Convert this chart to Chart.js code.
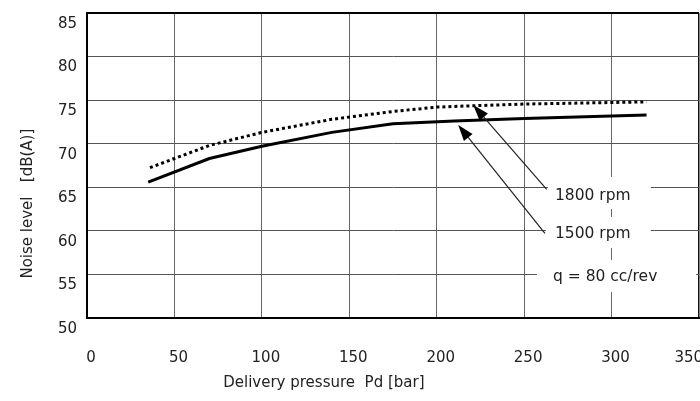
<!DOCTYPE html>
<html><head><meta charset="utf-8">
<script src="https://cdn.jsdelivr.net/npm/chart.js@4"></script>
<style>html,body{margin:0;padding:0;background:#fff;overflow:hidden}#wrap{position:relative;width:700px;height:401px}</style>
</head><body><div id="wrap"><canvas id="c" width="700" height="401"></canvas></div>
<script>
// ---- data ----
const pressure1500 = [35, 70, 100, 140, 175, 210, 250, 320];
const noise1500    = [65.6, 68.3, 69.7, 71.3, 72.3, 72.6, 72.9, 73.3];
const pressure1800 = [36, 70, 100, 140, 175, 200, 220, 250, 320];
const noise1800    = [67.25, 69.8, 71.3, 72.8, 73.7, 74.2, 74.35, 74.55, 74.8];
const seriesNames  = ['1500 rpm', '1800 rpm'];
const xTickLabels  = ['0', '50', '100', '150', '200', '250', '300', '350'];
const yTickLabels  = ['50', '55', '60', '65', '70', '75', '80', '85'];
const xTitle = 'Delivery pressure  Pd [bar]';
const yTitle = 'Noise level   [dB(A)]';
const noteText = 'q = 80 cc/rev';

// annotation layout in data units
const notes = {
  boxes:  [[263.6, 322.5, 66.18, 62.51], [262.5, 322.5, 61.59, 58.03], [257.3, 348.3, 56.66, 52.98]],
  labels: [[seriesNames[1], 267.6, 64.0], [seriesNames[0], 267.6, 59.64], [noteText, 266.5, 54.74]],
  arrows: [[262.9, 64.77, 220.9, 74.44], [261.9, 59.72, 212.3, 72.15]]
};

const toXY = (xs, ys) => xs.map((x, i) => ({x: x, y: ys[i]}));

const FONT = 'DejaVu Sans';
Chart.defaults.font.family = FONT;
Chart.defaults.font.size = 15;
Chart.defaults.color = '#222';

const notesPlugin = {
  id: 'notes',
  beforeDatasetsDraw(chart) {
    const {ctx, scales: {x, y}} = chart;
    ctx.save();
    ctx.fillStyle = '#fff';
    notes.boxes.forEach(b => {
      const x0 = x.getPixelForValue(b[0]), x1 = x.getPixelForValue(b[1]);
      const y0 = y.getPixelForValue(b[2]), y1 = y.getPixelForValue(b[3]);
      ctx.fillRect(x0, y0, x1 - x0, y1 - y0);
    });
    ctx.restore();
  },
  afterDatasetsDraw(chart) {
    const {ctx, scales: {x, y}} = chart;
    ctx.save();
    ctx.font = '15.5px "' + FONT + '"';
    ctx.fillStyle = '#222';
    ctx.textBaseline = 'middle';
    ctx.textAlign = 'left';
    notes.labels.forEach(l => ctx.fillText(l[0], x.getPixelForValue(l[1]), y.getPixelForValue(l[2])));
    notes.arrows.forEach(a => {
      const tx = x.getPixelForValue(a[0]), ty = y.getPixelForValue(a[1]);
      const hx = x.getPixelForValue(a[2]), hy = y.getPixelForValue(a[3]);
      const ang = Math.atan2(hy - ty, hx - tx);
      const L = 16, W = 5.5;
      const bx = hx - L * Math.cos(ang), by = hy - L * Math.sin(ang);
      ctx.strokeStyle = '#222';
      ctx.lineWidth = 1.2;
      ctx.beginPath(); ctx.moveTo(tx, ty); ctx.lineTo(bx, by); ctx.stroke();
      ctx.fillStyle = '#000';
      ctx.beginPath();
      ctx.moveTo(hx, hy);
      ctx.lineTo(bx + W * Math.sin(ang), by - W * Math.cos(ang));
      ctx.lineTo(bx - W * Math.sin(ang), by + W * Math.cos(ang));
      ctx.closePath(); ctx.fill();
    });
    ctx.restore();
  }
};

new Chart(document.getElementById('c'), {
  type: 'scatter',
  data: {
    datasets: [
      {label: seriesNames[0], data: toXY(pressure1500, noise1500), showLine: true, borderColor: '#000',
       borderWidth: 3, pointRadius: 0, tension: 0, fill: false},
      {label: seriesNames[1], data: toXY(pressure1800, noise1800), showLine: true, borderColor: '#000',
       borderWidth: 3, borderDash: [3, 3], pointRadius: 0, tension: 0, fill: false}
    ]
  },
  options: {
    responsive: false,
    animation: false,
    layout: {padding: {top: 13, right: 1, bottom: 4, left: 0}},
    plugins: {legend: {display: false}, tooltip: {enabled: false}},
    scales: {
      x: {
        type: 'linear', min: 0, max: 350,
        ticks: {stepSize: 50, padding: 31, labelOffset: 4, maxRotation: 0,
                callback: (v, i, arr) => xTickLabels[i] + (i === arr.length - 1 ? '\u00a0'.repeat(6) : '')},
        grid: {drawTicks: false,
               color: c => (c.tick && c.tick.value === 350) ? '#111' : '#666',
               lineWidth: c => (c.tick && c.tick.value === 350) ? 1.5 : 1},
        border: {display: true, color: '#000', width: 2},
        title: {display: true, text: xTitle + ' '.repeat(29), padding: {top: 9, bottom: 5}},
        afterFit(s) { s.height = 401 - 318 - 4; s.paddingLeft = 0; s.paddingRight = 0; }
      },
      y: {
        min: 50, max: 85,
        ticks: {stepSize: 5, padding: 10, labelOffset: 11, callback: (v, i) => yTickLabels[i]},
        grid: {drawTicks: false,
               color: c => (c.tick && c.tick.value === 85) ? '#000' : '#555',
               lineWidth: c => (c.tick && c.tick.value === 85) ? 2 : 1},
        border: {display: true, color: '#000', width: 2},
        title: {display: true, text: yTitle + ' '.repeat(16), padding: {top: 19, bottom: 0}},
        afterFit(s) { s.width = 87; s.paddingTop = 0; s.paddingBottom = 0; }
      }
    }
  },
  plugins: [notesPlugin]
});
</script></body></html>
